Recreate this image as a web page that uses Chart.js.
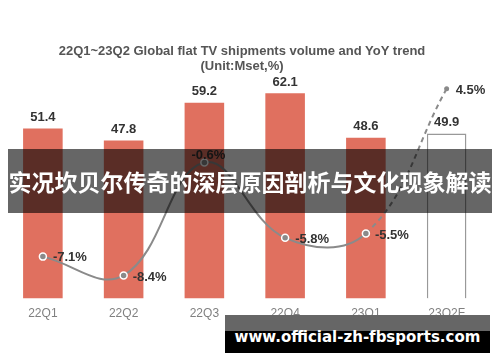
<!DOCTYPE html>
<html>
<head>
<meta charset="utf-8">
<script src="https://cdn.jsdelivr.net/npm/chart.js@4.4.0/dist/chart.umd.min.js"></script>
<style>
  body { margin: 0; background: #fff; }
  #wrap { position: relative; width: 500px; height: 362px; overflow: hidden; }
  #myChart { position: absolute; left: -3px; top: 0; }
  .title { position: absolute; left: 0; width: 484px; text-align: center; font: bold 13px "Liberation Sans", Arial, sans-serif; color: #555; }
  #banner { position: absolute; left: 8px; top: 149px; width: 484px; height: 64px; background: rgba(0,0,0,0.6);
    color: #fff; font: bold 23px "Noto Sans CJK SC", sans-serif; line-height: 64px; text-align: center; white-space: nowrap; }
  #mark { position: absolute; left: 225px; top: 315px; width: 265px; height: 38px; background: #000; }
  #mark .top { position: absolute; left: 0; top: 0; width: 100%; height: 16px; background: #666; }
  #mark .txt { position: absolute; left: 0; top: 13px; width: 100%; text-align: center; color: #fff;
    font: bold 15px "DejaVu Sans", sans-serif; white-space: nowrap; }
</style>
</head>
<body>
<div id="wrap">
  <canvas id="myChart" width="503" height="362"></canvas>
  <div class="title" style="top:43px">22Q1~23Q2 Global flat TV shipments volume and YoY trend</div>
  <div class="title" style="top:58px">(Unit:Mset,%)</div>
  <div id="banner">实况坎贝尔传奇的深层原因剖析与文化现象解读</div>
  <div id="mark"><div class="top"></div><div class="txt">www.official-zh-fbsports.com</div></div>
</div>
<script>
const categories = ['22Q1', '22Q2', '22Q3', '22Q4', '23Q1', '23Q2F'];
const shipments = [51.4, 47.8, 59.2, 62.1, 48.6, 49.9];
const yoy = [-7.1, -8.4, -0.6, -5.8, -5.5, 4.5];
const yoyLabels = ['-7.1%', '-8.4%', '-0.6%', '-5.8%', '-5.5%', '4.5%'];

// label offsets for the yoy points: [dx, dy, align]
const yoyPos = [[10, 1, 'left'], [9, 2, 'left'], [4, -7, 'center'], [10, 2, 'left'], [9, 2, 'left'], [9, 2, 'left']];

const labelPlugin = {
    id: 'labels',
    afterDatasetsDraw(chart) {
        const ctx = chart.ctx;
        ctx.save();
        ctx.font = 'bold 13px "Liberation Sans", Arial, sans-serif';
        ctx.fillStyle = '#333';
        ctx.textBaseline = 'middle';
        chart.getDatasetMeta(0).data.forEach((bar, i) => {
            ctx.textAlign = 'center';
            ctx.fillText(shipments[i], bar.x, bar.y - 11);
        });
        chart.getDatasetMeta(1).data.forEach((pt, i) => {
            const p = yoyPos[i];
            ctx.textAlign = p[2];
            ctx.fillText(yoyLabels[i], pt.x + p[0], pt.y + p[1]);
        });
        ctx.restore();
    }
};

const last = shipments.length - 1;
const barColors = shipments.map((v, i) => i == last ? '#fff' : '#e0705f');
const barBorders = shipments.map((v, i) => i == last ? '#999' : '#e0705f');
const barBorderW = shipments.map((v, i) => i == last ? 1.5 : 0);

new Chart(document.getElementById('myChart'), {
    type: 'bar',
    data: {
        labels: categories,
        datasets: [{
            label: 'Shipments',
            data: shipments,
            backgroundColor: barColors,
            borderColor: barBorders,
            borderWidth: barBorderW,
            categoryPercentage: 1,
            barPercentage: 0.49,
            yAxisID: 'y',
            order: 2
        }, {
            type: 'line',
            label: 'YoY',
            data: yoy,
            yAxisID: 'y2',
            borderColor: '#8a8a8a',
            borderWidth: 2,
            tension: 0.4,
            pointRadius: yoy.map((v, i) => i == last ? 2.5 : 3.5),
            pointBackgroundColor: '#8a8a8a',
            pointBorderColor: '#fff',
            pointBorderWidth: yoy.map((v, i) => i == last ? 0 : 1.5),
            segment: {
                borderDash: ctx => ctx.p1DataIndex == last ? [5, 4] : undefined
            },
            order: 1
        }]
    },
    options: {
        responsive: false,
        animation: false,
        layout: { padding: { top: 67, right: 13, left: 0, bottom: 33 } },
        plugins: { legend: { display: false }, tooltip: { enabled: false } },
        scales: {
            x: {
                grid: { display: false, drawTicks: false },
                border: { display: false },
                ticks: { color: '#808080', font: { family: '"Liberation Sans", Arial, sans-serif', size: 12 }, padding: 8 }
            },
            y: { display: false, min: 0, max: 70 },
            y2: { display: false, min: -10, max: 6 }
        }
    },
    plugins: [labelPlugin]
});
</script>
</body>
</html>
